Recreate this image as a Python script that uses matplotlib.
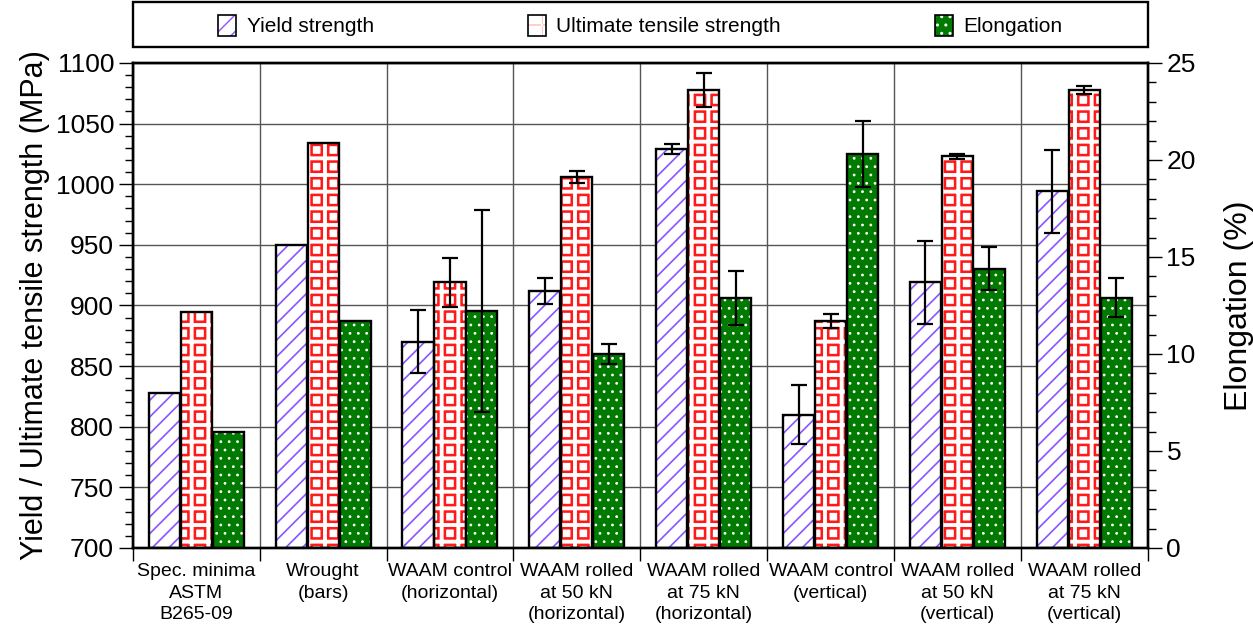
import numpy as np
import matplotlib
matplotlib.use("Agg")
import matplotlib.pyplot as plt
from matplotlib.patches import Patch, Rectangle
from matplotlib.ticker import MultipleLocator

plt.rcParams['font.family'] = ['Liberation Sans', 'DejaVu Sans']

categories = ["Spec. minima\nASTM\nB265-09", "Wrought\n(bars)", "WAAM control\n(horizontal)",
              "WAAM rolled\nat 50 kN\n(horizontal)", "WAAM rolled\nat 75 kN\n(horizontal)",
              "WAAM control\n(vertical)", "WAAM rolled\nat 50 kN\n(vertical)", "WAAM rolled\nat 75 kN\n(vertical)"]

yield_str = [828, 950, 870, 912, 1029, 810, 919, 994]
yield_err = [0, 0, 26, 10.5, 4.5, 24.5, 34.5, 34.5]
uts = [895, 1034, 919, 1006, 1078, 887, 1023, 1077.5]
uts_err = [0, 0, 20, 5, 14, 6, 2, 3.5]
elong = [6.0, 11.7, 12.2, 10.0, 12.9, 20.3, 14.4, 12.9]
elong_err = [0, 0, 5.2, 0.5, 1.4, 1.7, 1.1, 1.0]

x = np.arange(len(categories))
w = 0.245
off = 0.252
base = 700

# each fill style is one or more hatch layers: (face, hatch colour, hatch, hatch linewidth)
styles = {
    'yield': [('white', '#8a55ff', '//', 1.2)],
    'uts': [('white', '#ff1a1a', '+', 6.5), ('none', 'white', '+', 2.8)],
    'elong': [('#007a00', 'white', '..', 0.8)],
}

def set_hlw(artist, lw):
    if hasattr(artist, 'set_hatch_linewidth'):
        artist.set_hatch_linewidth(lw)

def draw_bars(ax, xs, vals, bottom, style, err):
    for face, hcol, hatch, hlw in styles[style]:
        with plt.rc_context({'hatch.linewidth': hlw}):
            bc = ax.bar(xs, vals, w, bottom=bottom, color=face, edgecolor=hcol, hatch=hatch,
                        linewidth=0, zorder=2)
        for p in bc:
            set_hlw(p, hlw)
    ax.bar(xs, vals, w, bottom=bottom, color='none', edgecolor='black', linewidth=1.7, zorder=3)
    e = np.array(err, dtype=float)
    m = e > 0
    top = np.array(vals) + bottom
    ax.errorbar(xs[m], top[m], yerr=e[m], fmt='none', ecolor='black',
                elinewidth=1.6, capsize=5.5, capthick=1.6, zorder=4)

def legend_handle(style):
    parts = []
    for face, hcol, hatch, hlw in styles[style]:
        with plt.rc_context({'hatch.linewidth': hlw}):
            p = Patch(facecolor=face, edgecolor=hcol, hatch=hatch, linewidth=0)
        set_hlw(p, hlw)
        parts.append(p)
    parts.append(Patch(facecolor='none', edgecolor='black', linewidth=1.2))
    return tuple(parts)

fig = plt.figure(figsize=(12.53, 6.29), dpi=100)
ax1 = fig.add_axes([0.106, 0.1288, 0.81, 0.7712])
ax2 = ax1.twinx()

draw_bars(ax1, x - off, np.array(yield_str) - base, base, 'yield', yield_err)
draw_bars(ax1, x, np.array(uts) - base, base, 'uts', uts_err)
draw_bars(ax2, x + off, np.array(elong), 0, 'elong', elong_err)

ax1.set_xlim(-0.5, len(categories) - 0.5)
ax1.set_ylim(700, 1100)
ax2.set_ylim(0, 25)

ax1.yaxis.set_major_locator(MultipleLocator(50))
ax1.yaxis.set_minor_locator(MultipleLocator(10))
ax2.yaxis.set_major_locator(MultipleLocator(5))
ax2.yaxis.set_minor_locator(MultipleLocator(1))

ax1.set_xticks(np.arange(len(categories) + 1) - 0.5)
ax1.set_xticklabels([])
ax1.set_xticks(x, minor=True)
ax1.set_xticklabels(categories, minor=True, fontsize=14, linespacing=1.35)
ax1.tick_params(axis='x', which='minor', length=0, pad=11)
ax1.tick_params(axis='x', which='major', length=9, width=1, direction='out')

ax1.tick_params(axis='y', which='major', length=10, width=1, labelsize=19, direction='out')
ax1.tick_params(axis='y', which='minor', length=6, width=1, direction='out')
ax2.tick_params(axis='y', which='major', length=10, width=1, labelsize=19, direction='out')
ax2.tick_params(axis='y', which='minor', length=6, width=1, direction='out')

ax1.grid(True, which='major', color='#555555', linewidth=1)
ax1.set_axisbelow(True)

for sp in list(ax1.spines.values()) + list(ax2.spines.values()):
    sp.set_linewidth(1.7)

ax1.set_ylabel("Yield / Ultimate tensile strength (MPa)", fontsize=22, labelpad=4)
ax2.set_ylabel("Elongation (%)", fontsize=23, labelpad=20)

# legend box above the plot
fig.patches.append(Rectangle((0.106, 0.9253), 0.81, 0.0715, transform=fig.transFigure,
                             facecolor='white', edgecolor='black', linewidth=1.7))
leg = fig.legend([legend_handle('yield'), legend_handle('uts'), legend_handle('elong')],
                 ["Yield strength", "Ultimate tensile strength", "Elongation"],
                 loc='center', bbox_to_anchor=(0.511, 0.959), ncol=3, fontsize=15,
                 frameon=False, handlelength=0.85, handleheight=1.15, handletextpad=0.5,
                 columnspacing=7.4)

fig.savefig("out.png", dpi=100)
